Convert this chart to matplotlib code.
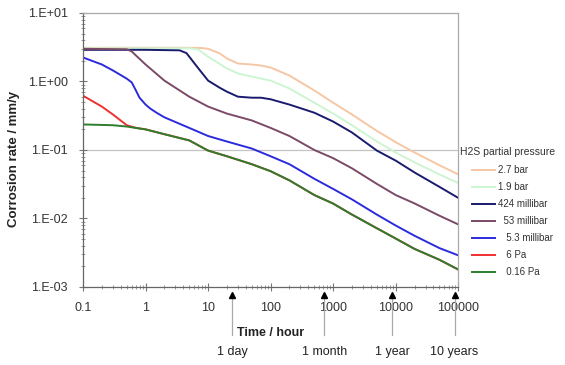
"""Corrosion rate vs exposure time for several H2S partial pressures."""

import matplotlib
matplotlib.use("Agg")
import matplotlib.pyplot as plt
from matplotlib.ticker import FixedLocator, FixedFormatter, LogLocator, NullFormatter

plt.rcParams["font.family"] = ["Liberation Sans", "DejaVu Sans"]

# time / hour, corrosion rate / mm/y
t_27bar = [0.1, 1, 5, 8, 10, 15, 20, 30, 50, 70, 100, 200, 500, 1000, 2000, 5000, 10000, 20000, 50000, 100000]
r_27bar = [3.1, 3.1, 3.1, 3.08, 3.0, 2.6, 2.17, 1.83, 1.77, 1.71, 1.6, 1.22, 0.74, 0.49, 0.33, 0.19, 0.13, 0.092, 0.06, 0.044]

t_19bar = [0.1, 1, 5, 7, 10, 20, 30, 50, 100, 200, 500, 1000, 2000, 5000, 10000, 20000, 50000, 100000]
r_19bar = [3.05, 3.05, 3.05, 2.93, 2.3, 1.55, 1.31, 1.18, 1.03, 0.79, 0.49, 0.34, 0.23, 0.133, 0.092, 0.066, 0.044, 0.033]

t_424mbar = [0.1, 1, 3.5, 4.5, 5, 7, 10, 15, 20, 30, 50, 70, 100, 200, 500, 1000, 2000, 5000, 10000, 20000, 50000, 100000]
r_424mbar = [2.9, 2.9, 2.85, 2.6, 2.3, 1.55, 1.03, 0.82, 0.71, 0.60, 0.58, 0.58, 0.55, 0.46, 0.35, 0.26, 0.18, 0.098, 0.070, 0.047, 0.029, 0.020]

t_53mbar = [0.1, 0.5, 0.6, 0.7, 1, 2, 5, 10, 20, 50, 100, 200, 500, 1000, 2000, 5000, 10000, 20000, 50000, 100000]
r_53mbar = [3.0, 2.95, 2.75, 2.4, 1.77, 1.03, 0.60, 0.43, 0.34, 0.27, 0.21, 0.16, 0.10, 0.076, 0.054, 0.032, 0.022, 0.0166, 0.011, 0.0082]

t_53mbar_b = [0.1, 0.2, 0.3, 0.5, 0.6, 0.7, 0.8, 1, 1.2, 1.5, 2, 5, 10, 20, 50, 100, 200, 500, 1000, 2000, 5000, 10000, 20000, 50000, 100000]
r_53mbar_b = [2.24, 1.77, 1.45, 1.1, 0.97, 0.74, 0.58, 0.46, 0.40, 0.35, 0.30, 0.21, 0.16, 0.133, 0.105, 0.081, 0.062, 0.038, 0.027, 0.019, 0.0114, 0.0079, 0.0056, 0.0037, 0.0029]

t_6pa = [0.1, 0.2, 0.3, 0.5, 0.7, 1, 2, 5, 10, 20, 50, 100, 200, 500, 1000, 2000, 5000, 10000, 20000, 50000, 100000]
r_6pa = [0.62, 0.43, 0.33, 0.23, 0.21, 0.20, 0.17, 0.138, 0.098, 0.081, 0.062, 0.049, 0.036, 0.022, 0.0165, 0.0114, 0.0072, 0.0051, 0.0036, 0.0025, 0.0018]

t_016pa = [0.1, 0.3, 0.5, 1, 2, 5, 10, 20, 50, 100, 200, 500, 1000, 2000, 5000, 10000, 20000, 50000, 100000]
r_016pa = [0.236, 0.23, 0.22, 0.20, 0.17, 0.138, 0.098, 0.081, 0.062, 0.049, 0.036, 0.022, 0.0165, 0.0114, 0.0072, 0.0051, 0.0036, 0.0025, 0.0018]

series = [
    ("2.7 bar", t_27bar, r_27bar, "#f6c7a4"),
    ("1.9 bar", t_19bar, r_19bar, "#cdf5d2"),
    ("424 millibar", t_424mbar, r_424mbar, "#1a1a6e"),
    ("  53 millibar", t_53mbar, r_53mbar, "#7a4a66"),
    ("   5.3 millibar", t_53mbar_b, r_53mbar_b, "#2b2bdd"),
    ("   6 Pa", t_6pa, r_6pa, "#f03030"),
    ("   0.16 Pa", t_016pa, r_016pa, "#2e7d2e"),
]

x_ticks = [0.1, 1, 10, 100, 1000, 10000, 100000]
x_tick_labels = ["0.1", "1", "10", "100", "1000", "10000", "100000"]
y_ticks = [1e-3, 1e-2, 1e-1, 1e0, 1e1]
y_tick_labels = ["1.E-03", "1.E-02", "1.E-01", "1.E+00", "1.E+01"]

milestones = [24, 720, 8760, 87600]
milestone_labels = ["1 day", "1 month", "1 year", "10 years"]


def main() -> None:
    fig = plt.figure(figsize=(5.65, 3.65), dpi=100)
    ax = fig.add_axes([0.147, 0.2137, 0.664, 0.7507])

    for label, t, r, c in series:
        ax.plot(t, r, color=c, linewidth=1.4, label=label)

    ax.set_xscale("log")
    ax.set_yscale("log")
    ax.set_xlim(0.1, 100000)
    ax.set_ylim(1e-3, 1e1)

    ax.axhline(0.1, color="#c4c4c4", linewidth=0.9, zorder=0)

    ax.xaxis.set_major_locator(FixedLocator(x_ticks))
    ax.xaxis.set_major_formatter(FixedFormatter(x_tick_labels))
    ax.yaxis.set_major_locator(FixedLocator(y_ticks))
    ax.yaxis.set_major_formatter(FixedFormatter(y_tick_labels))
    for axis in (ax.xaxis, ax.yaxis):
        axis.set_minor_locator(LogLocator(base=10, subs=range(2, 10), numticks=20))
        axis.set_minor_formatter(NullFormatter())

    ax.tick_params(which="major", direction="inout", length=6, width=0.8,
                   colors="#777777", labelcolor="#333333", labelsize=9, pad=8)
    ax.tick_params(which="minor", direction="inout", length=3, width=0.6,
                   colors="#888888")

    for side in ("left", "bottom"):
        ax.spines[side].set_color("#666666")
        ax.spines[side].set_linewidth(0.9)
    for side in ("top", "right"):
        ax.spines[side].set_color("#aaaaaa")
        ax.spines[side].set_linewidth(0.9)

    trans = ax.get_xaxis_transform()
    for t, lab in zip(milestones, milestone_labels):
        ax.plot([t, t], [-0.03, -0.175], color="#aaaaaa", linewidth=0.9,
                transform=trans, clip_on=False)
        ax.plot([t], [-0.028], marker="^", markersize=5, color="black",
                transform=trans, clip_on=False)
        ax.text(t, -0.237, lab, transform=trans, ha="center", va="center",
                fontsize=9, color="#222222")

    ax.text(0.5, -0.168, "Time / hour", transform=ax.transAxes, ha="center",
            va="center", fontsize=9, fontweight="bold", color="#222222")
    fig.text(0.025, 1 - 159 / 365, "Corrosion rate / mm/y", rotation=90,
             ha="center", va="center", fontsize=9.5, fontweight="bold",
             color="#222222")

    fig.text(460 / 565, 1 - 152 / 365, "H2S partial pressure", ha="left",
             va="center", fontsize=7.5, color="#333333")
    leg = fig.legend(loc="upper left", bbox_to_anchor=(471 / 565, 1 - 164 / 365),
                     frameon=False, fontsize=7, handlelength=2.4,
                     handletextpad=0.3, labelspacing=0.72, borderaxespad=0,
                     borderpad=0.1)
    for txt in leg.get_texts():
        txt.set_color("#333333")

    fig.savefig("out.png", dpi=100)
    plt.close(fig)


if __name__ == "__main__":
    main()
